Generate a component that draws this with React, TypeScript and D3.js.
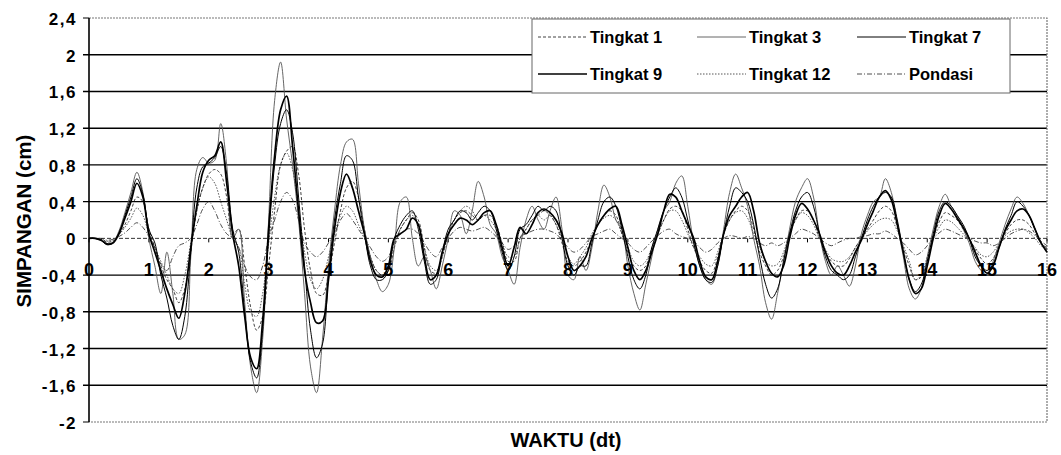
import React from "react";
import * as d3 from "d3";

// time step of the samples (s)
const dt = 0.1;

const tingkat1 = [
  0, 0, -0.01, -0.04, -0.03, 0.04, 0.15, 0.3, 0.45, 0.4,
  0.1, -0.1, -0.3, -0.45, -0.55, -0.7, -0.55, -0.15, 0.3, 0.55,
  0.7, 0.75, 0.7, 0.45, 0.05, 0.1, -0.3, -0.75, -1.0, -0.85,
  -0.3, 0.3, 0.8, 0.95, 1.0, 0.7, 0.1, -0.35, -0.6, -0.62,
  -0.4, -0.05, 0.3, 0.55, 0.62, 0.45, 0.1, -0.2, -0.35, -0.4,
  -0.35, -0.1, 0.1, 0.2, 0.28, 0.2, -0.1, -0.35, -0.38, -0.2,
  0.05, 0.2, 0.28, 0.3, 0.25, 0.2, 0.25, 0.25, 0.15, -0.05,
  -0.25, -0.25, 0, 0.1, 0.2, 0.25, 0.3, 0.25, 0.15, -0.05,
  -0.25, -0.3, -0.25, -0.15, 0, 0.15, 0.25, 0.3, 0.25, 0.05,
  -0.15, -0.3, -0.35, -0.3, -0.1, 0.05, 0.2, 0.32, 0.35, 0.3,
  0.1, -0.1, -0.25, -0.35, -0.38, -0.2, 0.05, 0.2, 0.3, 0.35,
  0.3, 0.1, -0.15, -0.3, -0.4, -0.35, -0.2, 0.05, 0.2, 0.3,
  0.3, 0.2, 0, -0.15, -0.25, -0.3, -0.3, -0.22, -0.1, 0,
  0.1, 0.2, 0.3, 0.35, 0.3, 0.12, -0.1, -0.3, -0.45, -0.42,
  -0.25, 0, 0.18, 0.28, 0.25, 0.2, 0.1, 0, -0.12, -0.22,
  -0.28, -0.22, -0.08, 0.05, 0.15, 0.2, 0.2, 0.15, 0.05, -0.05,
  -0.1,
];

const tingkat3 = [
  0, 0, -0.02, -0.06, -0.04, 0.08, 0.28, 0.5, 0.72, 0.5,
  0, -0.3, -0.6, -0.15, -0.6, -1.1, -1.05, -0.2, 0.75, 0.88,
  0.82, 0.85, 1.25, 0.8, 0, 0.1, -0.7, -1.4, -1.68, -1.1,
  0.2, 1.5, 1.92, 1.3, 0.8, 0.2, -0.6, -1.4, -1.68, -1.1,
  -0.3, 0.3, 0.8, 1.05, 1.08, 0.6, 0.1, -0.2, -0.45, -0.58,
  -0.5, -0.1, 0.4, 0.45, 0, -0.3, -0.2, -0.35, -0.55, -0.3,
  0, 0.3, 0.25, 0.05, 0.3, 0.62, 0.45, 0.15, 0.05, -0.2,
  -0.35, -0.5, -0.1, 0.2, 0.35, 0.2, 0.1, 0.3, 0.45, 0.1,
  -0.4, -0.45, -0.2, -0.35, -0.1, 0.3, 0.58, 0.45, 0.2, 0.1,
  -0.3, -0.6, -0.78, -0.5, -0.2, 0.1, 0.3, 0.4, 0.6, 0.68,
  0.35, -0.05, -0.3, -0.45, -0.5, -0.3, 0.1, 0.5, 0.7, 0.55,
  0.35, 0, -0.3, -0.7, -0.88, -0.6, -0.25, 0.1, 0.4, 0.55,
  0.65, 0.45, 0.05, -0.25, -0.4, -0.3, -0.4, -0.52, -0.3, 0.05,
  0.25, 0.4, 0.45, 0.65, 0.5, 0.15, -0.2, -0.55, -0.66, -0.55,
  -0.2, 0.1, 0.35, 0.48, 0.35, 0.25, 0.1, -0.05, -0.25, -0.35,
  -0.4, -0.25, -0.05, 0.15, 0.32, 0.45, 0.38, 0.25, 0.1, -0.05,
  -0.15,
];

const tingkat7 = [
  0, 0, -0.02, -0.07, -0.05, 0.06, 0.25, 0.45, 0.65, 0.48,
  0.1, -0.05, -0.4, -0.65, -0.95, -1.1, -0.85, -0.15, 0.55, 0.78,
  0.82, 0.88, 1.0, 0.7, 0.1, -0.15, -0.8, -1.35, -1.52, -1.0,
  0, 0.8, 1.25, 1.4, 1.15, 0.45, -0.3, -1.0, -1.3, -1.15,
  -0.4, 0.2, 0.6, 0.9, 0.85, 0.45, 0.05, -0.3, -0.45, -0.45,
  -0.35, 0, 0.15, 0.25, 0.3, 0.1, -0.25, -0.5, -0.45, -0.15,
  0.1, 0.2, 0.3, 0.28, 0.2, 0.28, 0.35, 0.3, 0.1, -0.15,
  -0.35, -0.2, 0.1, 0.15, 0.25, 0.35, 0.3, 0.35, 0.3, 0,
  -0.3, -0.4, -0.3, -0.3, -0.05, 0.2, 0.4, 0.45, 0.35, 0.1,
  -0.2, -0.45, -0.55, -0.4, -0.1, 0.1, 0.3, 0.45, 0.55, 0.45,
  0.2, -0.05, -0.3, -0.45, -0.48, -0.3, 0.05, 0.35, 0.55, 0.5,
  0.4, 0.15, -0.2, -0.5, -0.65, -0.55, -0.25, 0.05, 0.3, 0.45,
  0.5, 0.35, 0.05, -0.2, -0.35, -0.4, -0.45, -0.4, -0.2, 0,
  0.2, 0.35, 0.45, 0.5, 0.45, 0.2, -0.15, -0.45, -0.58, -0.5,
  -0.25, 0.05, 0.3, 0.4, 0.35, 0.25, 0.15, 0, -0.2, -0.3,
  -0.35, -0.28, -0.1, 0.1, 0.25, 0.4, 0.35, 0.25, 0.1, -0.05,
  -0.12,
];

const tingkat9 = [
  0, 0, -0.02, -0.06, -0.05, 0.05, 0.22, 0.4, 0.6, 0.45,
  0.05, -0.15, -0.35, -0.55, -0.72, -0.87, -0.6, -0.1, 0.35, 0.72,
  0.85, 0.9, 1.05, 0.6, 0.05, -0.3, -0.85, -1.3, -1.42, -0.9,
  0.1, 0.9, 1.4, 1.55, 1.0, 0.3, -0.35, -0.7, -0.92, -0.9,
  -0.45, 0.1, 0.5, 0.7, 0.55, 0.3, 0.05, -0.25, -0.4, -0.42,
  -0.3, 0, 0.05, 0.1, 0.22, 0.15, -0.2, -0.45, -0.4, -0.15,
  0.05, 0.15, 0.22, 0.2, 0.15, 0.2, 0.28, 0.3, 0.15, -0.1,
  -0.3, -0.1, 0.12, 0.05, 0.15, 0.28, 0.32, 0.28, 0.2, 0.05,
  -0.2, -0.35, -0.3, -0.2, 0, 0.15, 0.25, 0.32, 0.35, 0.15,
  -0.1, -0.35, -0.45, -0.35, -0.15, 0.05, 0.3, 0.48, 0.45, 0.3,
  0.15, 0, -0.25, -0.42, -0.45, -0.25, 0.05, 0.25, 0.35, 0.45,
  0.5, 0.3, -0.05, -0.25, -0.38, -0.42, -0.3, 0, 0.25, 0.38,
  0.32, 0.2, 0.05, -0.15, -0.3, -0.38, -0.4, -0.3, -0.15, -0.02,
  0.15, 0.3, 0.45, 0.52, 0.42, 0.15, -0.15, -0.45, -0.6, -0.55,
  -0.3, 0, 0.25, 0.38, 0.32, 0.22, 0.12, 0, -0.15, -0.3,
  -0.38, -0.3, -0.1, 0.08, 0.2, 0.3, 0.32, 0.25, 0.1, -0.05,
  -0.15,
];

const tingkat12 = [
  0, 0, -0.01, -0.03, -0.02, 0.04, 0.12, 0.22, 0.33, 0.25,
  0.05, -0.1, -0.25, -0.4, -0.55, -0.6, -0.4, -0.05, 0.3, 0.55,
  0.67, 0.6, 0.4, 0.2, 0, -0.1, -0.5, -0.8, -0.85, -0.6,
  -0.05, 0.45, 0.8, 0.93, 0.75, 0.3, -0.15, -0.45, -0.55, -0.45,
  -0.2, 0.05, 0.25, 0.35, 0.3, 0.15, 0, -0.2, -0.35, -0.4,
  -0.3, -0.05, 0.1, 0.2, 0.25, 0.15, -0.1, -0.3, -0.35, -0.2,
  0.05, 0.2, 0.3, 0.35, 0.3, 0.2, 0.25, 0.2, 0.1, -0.05,
  -0.2, -0.2, 0, 0.1, 0.2, 0.25, 0.2, 0.25, 0.15, 0,
  -0.2, -0.28, -0.2, -0.1, 0.05, 0.15, 0.22, 0.25, 0.2, 0.05,
  -0.1, -0.25, -0.3, -0.25, -0.1, 0.05, 0.2, 0.3, 0.3, 0.2,
  0.05, -0.1, -0.2, -0.28, -0.3, -0.15, 0.05, 0.2, 0.28, 0.3,
  0.22, 0.05, -0.1, -0.25, -0.3, -0.28, -0.15, 0.05, 0.2, 0.28,
  0.25, 0.15, 0, -0.12, -0.22, -0.25, -0.25, -0.2, -0.1, 0,
  0.08, 0.15, 0.2, 0.22, 0.2, 0.08, -0.08, -0.25, -0.45, -0.4,
  -0.2, 0, 0.12, 0.2, 0.18, 0.12, 0.05, -0.02, -0.1, -0.18,
  -0.2, -0.15, -0.05, 0.03, 0.08, 0.1, 0.1, 0.06, 0, -0.08,
  -0.12,
];

const pondasi = [
  0, 0, 0, -0.02, -0.01, 0.02, 0.06, 0.12, 0.17, 0.12,
  0.02, -0.1, -0.28, -0.35, -0.2, -0.08, -0.05, 0, 0.15, 0.32,
  0.4, 0.3, 0.15, 0.05, 0, -0.1, -0.3, -0.42, -0.45, -0.3,
  0, 0.2, 0.4, 0.5, 0.42, 0.2, -0.05, -0.15, -0.2, -0.15,
  -0.05, 0.05, 0.2, 0.27, 0.2, 0.1, 0, -0.1, -0.2, -0.25,
  -0.2, -0.05, 0.05, 0.1, 0.1, 0.05, -0.05, -0.15, -0.2, -0.1,
  0, 0.08, 0.12, 0.1, 0.08, 0.1, 0.12, 0.08, 0.02, -0.05,
  -0.12, -0.08, 0.02, 0.05, 0.08, 0.1, 0.1, 0.08, 0.05, -0.02,
  -0.1, -0.15, -0.12, -0.05, 0.02, 0.05, 0.08, 0.1, 0.05, 0,
  -0.05, -0.12, -0.15, -0.1, -0.03, 0.03, 0.08, 0.1, 0.05, 0.02,
  0, -0.03, -0.1, -0.15, -0.12, -0.05, 0, 0.03, 0.02, 0,
  0.02, 0, -0.05, -0.08, -0.05, -0.08, -0.05, 0, 0.05, 0.1,
  0.08, 0.05, 0, -0.05, -0.08, -0.05, -0.02, 0, 0, 0.02,
  0.03, 0.05, 0.05, 0.08, 0.05, 0, -0.05, -0.12, -0.18, -0.15,
  -0.08, 0, 0.06, 0.1, 0.08, 0.05, 0.02, 0, -0.03, -0.05,
  -0.05, -0.08, -0.05, 0, 0.05, 0.08, 0.1, 0.08, 0.03, -0.03,
  -0.08,
];

const yTicks = [2.4, 2, 1.6, 1.2, 0.8, 0.4, 0, -0.4, -0.8, -1.2, -1.6, -2];
const xTicks = [0, 1, 2, 3, 4, 5, 6, 7, 8, 9, 10, 11, 12, 13, 14, 15, 16];

type Series = {
  name: string;
  values: number[];
  color: string;
  width: number;
  dash?: string;
};

// drawing order: light lines first, heavy on top
const series: Series[] = [
  { name: "Pondasi", values: pondasi, color: "#222", width: 0.8, dash: "5,2,1,2" },
  { name: "Tingkat 12", values: tingkat12, color: "#444", width: 0.9, dash: "1.5,1.5" },
  { name: "Tingkat 1", values: tingkat1, color: "#111", width: 0.8, dash: "3,2" },
  { name: "Tingkat 3", values: tingkat3, color: "#555", width: 0.9 },
  { name: "Tingkat 7", values: tingkat7, color: "#000", width: 1 },
  { name: "Tingkat 9", values: tingkat9, color: "#000", width: 1.7 },
];

const legendOrder = ["Tingkat 1", "Tingkat 3", "Tingkat 7", "Tingkat 9", "Tingkat 12", "Pondasi"];

const W = 1061;
const H = 455;
const left = 89;
const right = 1047;
const top = 18;
const bottom = 422;
const font = "'Liberation Sans', Arial, sans-serif";

const fmt = (v: number) => String(v).replace(".", ",");

export default function App() {
  document.body.style.margin = "0";

  const x = d3.scaleLinear().domain([0, 16]).range([left, right]);
  const y = d3.scaleLinear().domain([-2, 2.4]).range([bottom, top]);

  const line = d3
    .line<number>()
    .x((_, i) => x(i * dt))
    .y((d) => y(d))
    .curve(d3.curveCatmullRom.alpha(0.5));

  const lgX = 532;
  const lgY = 19;
  const colX = [538, 697, 857];
  const rowY = [37, 74];

  return (
    <svg width={W} height={H} style={{ display: "block", background: "#fff" }} fontFamily={font}>
      {/* grid */}
      {yTicks
        .filter((v) => v !== 2.4 && v !== -2 && v !== 0)
        .map((v) => (
          <line key={v} x1={left - 6} x2={right} y1={y(v)} y2={y(v)} stroke="#000" strokeWidth={1.4} />
        ))}
      <line x1={left - 6} x2={right} y1={y(0)} y2={y(0)} stroke="#333" strokeWidth={1} strokeDasharray="4,2" />
      {/* dotted frame */}
      <path
        d={`M${left},${top}H${right}V${bottom}H${left}`}
        fill="none"
        stroke="#777"
        strokeWidth={1.2}
        strokeDasharray="2,1"
      />
      <line x1={left - 6} x2={left} y1={top} y2={top} stroke="#000" />
      <line x1={left - 6} x2={left} y1={bottom} y2={bottom} stroke="#000" />
      <line x1={left} x2={left} y1={top} y2={bottom} stroke="#000" strokeWidth={1.6} />
      {/* x ticks on zero line */}
      {xTicks.map((t) => (
        <line key={t} x1={x(t)} x2={x(t)} y1={y(0)} y2={y(0) + 4} stroke="#000" strokeWidth={1} />
      ))}

      {/* series */}
      {series.map((s) => (
        <path
          key={s.name}
          d={line(s.values) || ""}
          fill="none"
          stroke={s.color}
          strokeWidth={s.width}
          strokeDasharray={s.dash}
        />
      ))}

      {/* y tick labels */}
      {yTicks.map((v) => (
        <text
          key={v}
          x={77}
          y={y(v) + 7}
          textAnchor="end"
          fontSize={17}
          fontWeight="bold"
          letterSpacing={1.5}
        >
          {fmt(v)}
        </text>
      ))}
      {/* x tick labels */}
      {xTicks.map((t) => (
        <text key={t} x={x(t)} y={276} textAnchor="middle" fontSize={18} fontWeight="bold">
          {t}
        </text>
      ))}

      {/* axis titles */}
      <text x={566} y={447} textAnchor="middle" fontSize={20} fontWeight="bold">
        WAKTU (dt)
      </text>
      <text
        transform={`translate(31,${(top + bottom) / 2 + 1}) rotate(-90)`}
        textAnchor="middle"
        fontSize={20.5}
        fontWeight="bold"
      >
        SIMPANGAN (cm)
      </text>

      {/* legend */}
      <rect x={lgX} y={lgY} width={1010 - lgX} height={93 - lgY} fill="#fff" stroke="#666" strokeWidth={1} />
      {legendOrder.map((name, i) => {
        const s = series.find((d) => d.name === name)!;
        const cx = colX[i % 3];
        const cy = rowY[Math.floor(i / 3)];
        return (
          <g key={name}>
            <line
              x1={cx}
              x2={cx + 49}
              y1={cy}
              y2={cy}
              stroke={s.color}
              strokeWidth={s.width}
              strokeDasharray={s.dash}
            />
            <text x={cx + 52} y={cy + 6} fontSize={16.5} fontWeight="bold">
              {name}
            </text>
          </g>
        );
      })}
    </svg>
  );
}
